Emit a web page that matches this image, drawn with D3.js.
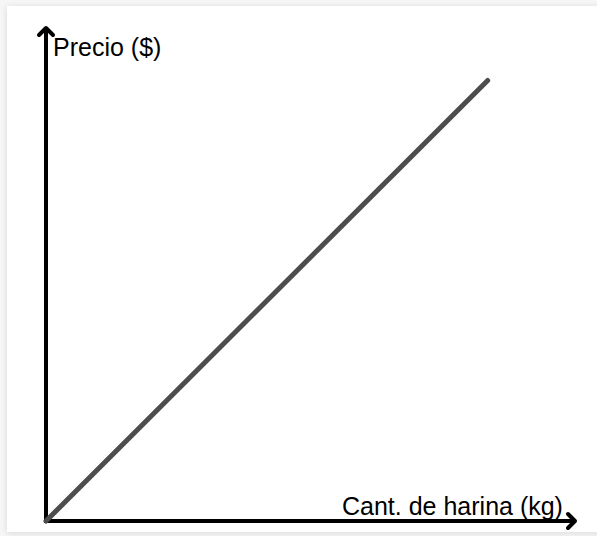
<!DOCTYPE html>
<html>
<head>
<meta charset="utf-8">
<script src="https://cdn.jsdelivr.net/npm/d3@7"></script>
<style>
  html, body { margin: 0; padding: 0; background: #f6f6f6; }
  svg { display: block; }
</style>
</head>
<body>
<svg id="chart"></svg>
<script>
'use strict';

// data: price grows in proportion to the amount of flour
const cantidad = [ 0, 10 ];
const precio   = [ 0, 10.7 ];
const xTitle   = 'Cant. de harina (kg)';
const yTitle   = 'Precio ($)';

const width  = 597,
      height = 536;

const svg = d3.select( '#chart' )
              .attr( 'width', width )
              .attr( 'height', height );

// soft shadow round the white card
const defs = svg.append( 'defs' );
const shadow = defs.append( 'filter' )
                   .attr( 'id', 'shadow' )
                   .attr( 'x', '-5%' ).attr( 'y', '-5%' )
                   .attr( 'width', '110%' ).attr( 'height', '110%' );
shadow.append( 'feDropShadow' )
      .attr( 'dx', 0 ).attr( 'dy', 1 )
      .attr( 'stdDeviation', 3 )
      .attr( 'flood-color', '#000' )
      .attr( 'flood-opacity', 0.12 );

svg.append( 'rect' )
    .attr( 'x', 7 ).attr( 'y', 6 )
    .attr( 'width', width ).attr( 'height', 526 )
    .attr( 'fill', '#fff' )
    .attr( 'filter', 'url(#shadow)' );

// plot area
const margin = { top: 27, right: 21, bottom: 15, left: 46 };

const x = d3.scaleLinear()
            .domain( [ 0, 12 ] )
            .range( [ margin.left, width - margin.right ] );

const y = d3.scaleLinear()
            .domain( [ 0, 12 ] )
            .range( [ height - margin.bottom, margin.top ] );

const axisColor = '#000',
      axisWidth = 4;

// y-axis with arrow head
const g = svg.append( 'g' ).attr( 'class', 'axes' );

g.append( 'line' )
    .attr( 'x1', x( 0 ) ).attr( 'y1', y( 0 ) + 2 )
    .attr( 'x2', x( 0 ) ).attr( 'y2', y( 12 ) + 1 )
    .attr( 'stroke', axisColor )
    .attr( 'stroke-width', axisWidth );

g.append( 'path' )
    .attr( 'd', `M${x( 0 ) - 7},${y( 12 ) + 8} L${x( 0 )},${y( 12 ) + 1} L${x( 0 ) + 7},${y( 12 ) + 8}` )
    .attr( 'fill', 'none' )
    .attr( 'stroke', axisColor )
    .attr( 'stroke-width', axisWidth )
    .attr( 'stroke-linecap', 'round' )
    .attr( 'stroke-linejoin', 'round' );

// x-axis with arrow head
g.append( 'line' )
    .attr( 'x1', x( 0 ) - 2 ).attr( 'y1', y( 0 ) )
    .attr( 'x2', x( 12 ) - 1 ).attr( 'y2', y( 0 ) )
    .attr( 'stroke', axisColor )
    .attr( 'stroke-width', axisWidth );

g.append( 'path' )
    .attr( 'd', `M${x( 12 ) - 8},${y( 0 ) - 7} L${x( 12 ) - 1},${y( 0 )} L${x( 12 ) - 8},${y( 0 ) + 7}` )
    .attr( 'fill', 'none' )
    .attr( 'stroke', axisColor )
    .attr( 'stroke-width', axisWidth )
    .attr( 'stroke-linecap', 'round' )
    .attr( 'stroke-linejoin', 'round' );

// titles
g.append( 'text' )
    .attr( 'x', x( 0 ) + 7 )
    .attr( 'y', 56 )
    .style( 'font-family', '"Liberation Sans", Arial, sans-serif' )
    .style( 'font-size', '25px' )
    .style( 'fill', '#000' )
    .text( yTitle );

g.append( 'text' )
    .attr( 'x', 342 )
    .attr( 'y', 515 )
    .style( 'font-family', '"Liberation Sans", Arial, sans-serif' )
    .style( 'font-size', '25px' )
    .style( 'fill', '#000' )
    .text( xTitle );

// the price line
const line = d3.line()
               .x( (d) => x( d[0] ) )
               .y( (d) => y( d[1] ) );

svg.append( 'path' )
    .datum( d3.zip( cantidad, precio ) )
    .attr( 'd', line )
    .attr( 'fill', 'none' )
    .attr( 'stroke', '#4d4d4d' )
    .attr( 'stroke-width', 5 )
    .attr( 'stroke-linecap', 'round' );
</script>
</body>
</html>
